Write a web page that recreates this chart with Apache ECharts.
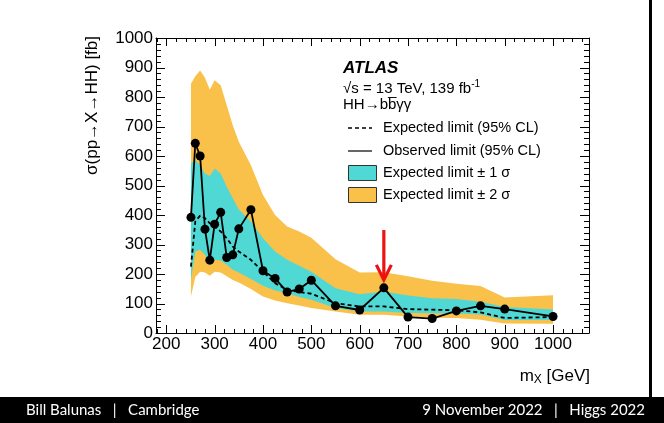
<!DOCTYPE html>
<html>
<head>
<meta charset="utf-8">
<script src="https://cdn.jsdelivr.net/npm/echarts@6/dist/echarts.min.js"></script>
<style>
html,body{margin:0;padding:0;background:#fff;}
#chart{width:664px;height:423px;}
</style>
</head>
<body>
<div id="chart"></div>
<script>
// resonance masses [GeV]
var massX = [251, 260, 270, 280, 290, 300, 312.5, 325, 337.5, 350, 375, 400, 425, 450, 475, 500, 550, 600, 650, 700, 750, 800, 850, 900, 1000];
// limits [fb]
var observed = [392, 643, 600, 352, 247, 369, 409, 256, 265, 353, 418, 211, 185, 139, 149, 179, 92, 78, 153, 54, 49, 75, 92, 81, 56];
var expected = [225, 378, 398, 389, 372, 361, 344, 321, 293, 276, 248, 208, 169, 146, 139, 133, 101, 90, 90, 81, 79, 77, 70, 51, 54];
var plus2 = [845, 870, 890, 865, 825, 857, 840, 772, 704, 648, 569, 468, 400, 361, 344, 323, 250, 205, 206, 192, 177, 167, 159, 120, 128];
var plus1 = [575, 586, 569, 541, 532, 558, 541, 496, 457, 419, 378, 321, 276, 248, 228, 208, 152, 131, 141, 127, 118, 115, 106, 88, 80];
var minus1 = [180, 276, 282, 265, 237, 248, 246, 231, 214, 205, 183, 160, 144, 135, 122, 113, 85, 73, 73, 68, 67, 66, 63, 44, 44];
var minus2 = [124, 190, 208, 205, 194, 208, 205, 192, 180, 171, 149, 124, 110, 101, 93, 85, 73, 62, 62, 56, 52, 51, 45, 32, 31];
// highlighted point (arrow)
var arrowMass = 650;
var arrowFrom = 349, arrowTo = 180;

// axes
var xMin = 178.7, xMax = 1074.4;
var yMin = 0, yMax = 1000, yStep = 100;
var xMajorTicks = [200, 300, 400, 500, 600, 700, 800, 900, 1000];
var yMajorTicks = [0, 100, 200, 300, 400, 500, 600, 700, 800, 900, 1000];
var minorStep = 20;

var YELLOW = '#f9c04a';
var CYAN = '#4fd8d4';
var FONT = '"Liberation Sans", Arial, Helvetica, sans-serif';
var FOOT = '15px Lato, "Open Sans", sans-serif';

var chart = echarts.init(document.getElementById('chart'));

function pairs(ys){
	return massX.map(function(m, i){ return [m, ys[i]]; });
}

// band drawn as a polygon (upper forward, lower back)
function band(name, upper, lower, color){
	return {
		type: 'custom',
		name: name,
		silent: true,
		z: 1,
		data: massX.map(function(m, i){ return [m, lower[i], upper[i]]; }),
		encode: {x: 0, y: [1, 2]},
		renderItem: function(params, api){
			if (params.dataIndex !== 0) return null;
			var pts = [];
			for (var i = 0; i < massX.length; i++) pts.push(api.coord([massX[i], upper[i]]));
			for (var j = massX.length - 1; j >= 0; j--) pts.push(api.coord([massX[j], lower[j]]));
			return {type: 'polygon', shape: {points: pts}, style: {fill: color}};
		}
	};
}

// plain numbers, only on round hundreds
function tickFmt(v){
	return Math.abs(v % 100) < 1e-6 ? String(v) : '';
}

function xAx(pos, labels){
	return {
		type: 'value', position: pos, min: xMin, max: xMax,
		minInterval: 100, maxInterval: 100,
		axisLine: {show: true, onZero: false, lineStyle: {color: '#000', width: 1}},
		axisTick: {show: false},
		minorTick: {show: false},
		axisLabel: {show: labels, color: '#000', fontSize: 17, fontFamily: FONT, margin: 3, formatter: tickFmt},
		splitLine: {show: false}
	};
}
function yAx(pos, labels){
	return {
		type: 'value', position: pos, min: yMin, max: yMax, interval: yStep,
		axisLine: {show: true, onZero: false, lineStyle: {color: '#000', width: 1}},
		axisTick: {show: false},
		minorTick: {show: false},
		axisLabel: {show: labels, color: '#000', fontSize: 17, fontFamily: FONT, margin: 3, formatter: tickFmt},
		splitLine: {show: false}
	};
}

var txt = function(x, y, text, extra){
	var st = {text: text, fill: '#000', font: '15px ' + FONT, align: 'left', verticalAlign: 'middle'};
	for (var k in extra) st[k] = extra[k];
	return {type: 'text', x: x, y: y, z: 20, style: st};
};

var option = {
	animation: false,
	grid: {left: 156, right: 75, top: 38, bottom: 90},
	xAxis: [xAx('bottom', true), xAx('top', false)],
	yAxis: [yAx('left', true), yAx('right', false)],
	series: [
		band('Expected limit \u00b1 2 \u03c3', plus2, minus2, YELLOW),
		band('Expected limit \u00b1 1 \u03c3', plus1, minus1, CYAN),
		{
			type: 'line', name: 'Expected limit (95% CL)', data: pairs(expected),
			showSymbol: false, symbol: 'none',
			lineStyle: {color: '#000', width: 1.8, type: [4, 3]}
		},
		{
			type: 'line', name: 'Observed limit (95% CL)', data: pairs(observed),
			symbol: 'circle', symbolSize: 9,
			itemStyle: {color: '#000'},
			lineStyle: {color: '#000', width: 1.8}
		}
	],
	graphic: [
		// slide frame and footer bar
		{type: 'rect', shape: {x: 0, y: 397, width: 664, height: 26}, style: {fill: '#000'}, z: 20},
		{type: 'rect', shape: {x: 649, y: 0, width: 3, height: 423}, style: {fill: '#000'}, z: 20},
		txt(26, 410, 'Bill Balunas   |   Cambridge', {fill: '#fff', font: FOOT}),
		txt(645, 410, '9 November 2022   |   Higgs 2022', {fill: '#fff', font: FOOT, align: 'right'}),
		// axis titles
		{type: 'text', x: 92, y: 36, rotation: Math.PI / 2, z: 20,
			style: {text: '\u03c3(pp\u2192X\u2192HH) [fb]', fill: '#000', font: '17px ' + FONT, align: 'right', verticalAlign: 'middle'}},
		txt(590, 376, 'm{sub|X} [GeV]', {font: '17px ' + FONT, align: 'right',
			rich: {sub: {fontSize: 12, fontFamily: FONT, padding: [8, 0, 0, 0]}}}),
		// ATLAS label
		txt(343, 68, 'ATLAS', {font: 'italic bold 17px ' + FONT}),
		txt(343, 89, '\u221as = 13 TeV, 139 fb{sup|-1}', {
			rich: {sup: {fontSize: 10, fontFamily: FONT, padding: [0, 0, 9, 0]}}}),
		txt(343, 105, 'HH\u2192bb\u0305\u03b3\u03b3', {font: '15px "Liberation Sans", "DejaVu Sans", sans-serif'}),
		// legend
		{type: 'line', shape: {x1: 348, y1: 128, x2: 372, y2: 128}, z: 20, style: {stroke: '#000', lineWidth: 1.6, lineDash: [4, 3]}},
		txt(383, 128, 'Expected limit (95% CL)', {font: '14.5px ' + FONT}),
		{type: 'line', shape: {x1: 348, y1: 151, x2: 372, y2: 151}, z: 20, style: {stroke: '#000', lineWidth: 1.2}},
		txt(383, 151, 'Observed limit (95% CL)', {font: '14.5px ' + FONT}),
		{type: 'rect', shape: {x: 348.5, y: 165.5, width: 28, height: 15}, z: 20, style: {fill: CYAN, stroke: '#333', lineWidth: 1}},
		txt(383, 173, 'Expected limit \u00b1 1 \u03c3', {font: '14.5px ' + FONT}),
		{type: 'rect', shape: {x: 348.5, y: 187.5, width: 28, height: 15}, z: 20, style: {fill: YELLOW, stroke: '#333', lineWidth: 1}},
		txt(383, 195, 'Expected limit \u00b1 2 \u03c3', {font: '14.5px ' + FONT})
	]
};

chart.setOption(option);

// ROOT style ticks on all four sides, pointing inwards (placed through the axes' scales)
function tickList(lo, hi){
	var out = [];
	for (var v = Math.ceil(lo / minorStep) * minorStep; v <= hi; v += minorStep) out.push(v);
	return out;
}
var extra = [];
function mark(val, w, h, alongX){
	var p = chart.convertToPixel({gridIndex: 0}, val);
	var x = Math.round(p[0]), y = Math.round(p[1]);
	var r = alongX ? {x: x, y: h < 0 ? y + h : y, width: 1, height: Math.abs(h)}
		: {x: w < 0 ? x + w : x, y: y, width: Math.abs(w), height: 1};
	extra.push({type: 'rect', z: 25, silent: true, shape: r, style: {fill: '#000'}});
}
tickList(xMin, xMax).forEach(function(t){
	var len = xMajorTicks.indexOf(t) >= 0 ? 8 : 4;
	mark([t, yMin], 1, -len, true);
	mark([t, yMax], 1, len, true);
});
tickList(yMin, yMax).forEach(function(t){
	var len = yMajorTicks.indexOf(t) >= 0 ? 9 : 5;
	mark([xMin, t], len, 1, false);
	mark([xMax, t], -len, 1, false);
});

// red arrow pointing at the 650 GeV excess
var arrTop = chart.convertToPixel({gridIndex: 0}, [arrowMass, arrowFrom]);
var arrTip = chart.convertToPixel({gridIndex: 0}, [arrowMass, arrowTo]);
extra.push(
	{type: 'line', z: 30, shape: {x1: arrTop[0], y1: arrTop[1], x2: arrTip[0], y2: arrTip[1] - 2}, style: {stroke: '#ee1111', lineWidth: 3.2}},
	{type: 'polyline', z: 30, shape: {points: [[arrTip[0] - 7.5, arrTip[1] - 15], [arrTip[0], arrTip[1]], [arrTip[0] + 7.5, arrTip[1] - 15]]},
		style: {stroke: '#ee1111', lineWidth: 3.2, fill: null}}
);

chart.setOption({graphic: option.graphic.concat(extra)});
</script>
</body>
</html>
